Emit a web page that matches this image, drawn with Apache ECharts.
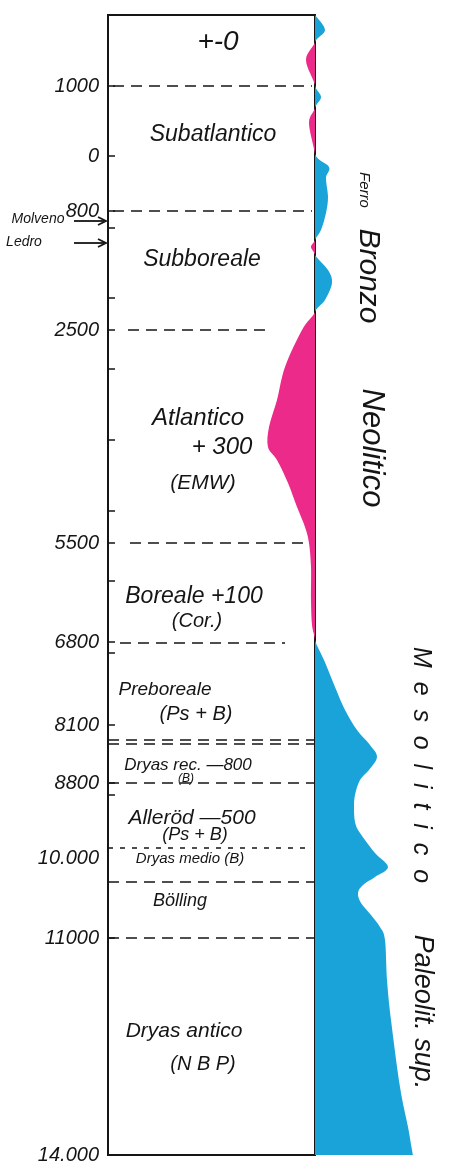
<!DOCTYPE html>
<html lang="it">
<head>
<meta charset="UTF-8">
<title>diagramma pollinico</title>
<script src="https://cdn.jsdelivr.net/npm/echarts@6/dist/echarts.min.js"></script>
<style>
  html, body { margin: 0; padding: 0; background: #fff; }
  #chart { width: 454px; height: 1170px; }
</style>
</head>
<body>
<div id="chart"></div>
<script>
// profondità in unità del disegno (0 = bordo superiore, 1140 = bordo inferiore)
var labelDepth = [71, 141, 196, 315, 528, 627, 710, 768, 843, 923, 1140];
var labelText = ['1000', '0', '800', '2500', '5500', '6800', '8100', '8800', '10.000', '11000', '14.000'];
var tickDepth = [71, 141, 196, 213, 283, 315, 354, 425, 496, 528, 566, 627, 638, 710, 768, 780, 923];

// limiti dei periodi (linee tratteggiate)
var boundDepth = [71, 196, 315, 528, 628, 725, 729, 768, 833, 867, 923];

// curva: + = blu (destra), - = rosa (sinistra)
var profDepth = [0, 15, 27, 45, 70, 82, 93, 108, 139, 152, 163, 182, 198, 215, 225, 232, 240, 255, 268, 285, 297,
  315, 352, 385, 412, 432, 445, 468, 492, 512, 528, 552, 585, 610, 625,
  645, 672, 695, 715, 730, 742, 755, 765, 780, 792, 807, 818, 838, 852, 862, 870, 878, 888, 900, 912, 925,
  965, 1005, 1072, 1112, 1135, 1140];
var profValue = [0, 10, 0, -9, 0, 6, 0, -6, 0, 14, 11, 13, 11, 6, 0, -4, 0, 13, 17, 10, 0,
  -13, -30, -38, -46, -47, -38, -27, -18, -10, -6, -4, -4, -3, 0,
  9, 20, 30, 42, 55, 62, 54, 45, 40, 39, 40, 45, 60, 73, 60, 48, 43, 46, 56, 65, 70,
  72, 76, 85, 93, 97, 98];

var BLUE = '#1aa3d8';
var PINK = '#ec2a8a';
var INK = '#151515';

// estensione orizzontale delle linee tratteggiate (px dal bordo sinistro)
var boundSpan = [[5, 204], [5, 204], [20, 160], [22, 202], [12, 177], [0, 206], [0, 206], [0, 206], [0, 202], [0, 206], [0, 206]];

var profData = profDepth.map(function (d, i) { return [profValue[i], d]; });

function areaSeries(color, sign) {
  return {
    type: 'custom',
    xAxisIndex: 1,
    yAxisIndex: 1,
    silent: true,
    clip: false,
    data: profData,
    renderItem: function (params, api) {
      if (params.dataIndex !== 0) return;
      var n = profDepth.length;
      var bx = api.coord([0, 0])[0];
      var pts = [];
      for (var i = 0; i < n; i++) {
        var v = sign > 0 ? Math.max(profValue[i], 0) : Math.min(profValue[i], 0);
        pts.push(api.coord([v, profDepth[i]]));
      }
      var side = function (x) { return sign > 0 ? Math.max(x, bx) : Math.min(x, bx); };
      var d = 'M' + bx + ' ' + pts[0][1] + ' L' + pts[0][0] + ' ' + pts[0][1];
      for (var k = 0; k < n - 1; k++) {
        var p0 = pts[k - 1] || pts[k], p1 = pts[k], p2 = pts[k + 1], p3 = pts[k + 2] || p2;
        var c1x = side(p1[0] + (p2[0] - p0[0]) / 6), c1y = p1[1] + (p2[1] - p0[1]) / 6;
        var c2x = side(p2[0] - (p3[0] - p1[0]) / 6), c2y = p2[1] - (p3[1] - p1[1]) / 6;
        d += ' C' + c1x + ' ' + c1y + ' ' + c2x + ' ' + c2y + ' ' + p2[0] + ' ' + p2[1];
      }
      d += ' L' + bx + ' ' + pts[n - 1][1] + ' Z';
      return { type: 'path', shape: { pathData: d }, style: { fill: color } };
    }
  };
}

var markData = boundDepth.map(function (d, i) {
  var item = [{ coord: [boundSpan[i][0], d] }, { coord: [boundSpan[i][1], d] }];
  if (d === 833) item[0].lineStyle = { type: [5, 7] };
  return item;
});

function txt(t, x, y, size, extra) {
  var o = {
    type: 'text', x: x, y: y, silent: true,
    style: {
      text: t, fontSize: size, fontStyle: 'italic', fontFamily: 'Liberation Sans',
      fill: INK, align: 'center', verticalAlign: 'middle'
    }
  };
  if (extra) for (var k in extra) o[k] = extra[k];
  return o;
}

function arrow(x1, x2, y) {
  return {
    type: 'group', silent: true,
    children: [
      { type: 'line', shape: { x1: x1, y1: y, x2: x2 - 2, y2: y }, style: { stroke: INK, lineWidth: 1.8 } },
      { type: 'polyline', shape: { points: [[x2 - 8, y - 4], [x2, y], [x2 - 8, y + 4]] }, style: { stroke: INK, lineWidth: 1.8, fill: null } }
    ]
  };
}

var rot = -Math.PI / 2;

var chart = echarts.init(document.getElementById('chart'));
chart.setOption({
  backgroundColor: '#fff',
  animation: false,
  grid: [
    { left: 108, top: 15, width: 207, height: 1140, show: true, borderColor: INK, borderWidth: 2, backgroundColor: 'transparent' },
    { left: 250, top: 15, width: 190, height: 1140 }
  ],
  xAxis: [
    { gridIndex: 0, type: 'value', min: 0, max: 207, show: false },
    { gridIndex: 1, type: 'value', min: -65, max: 125, show: false }
  ],
  yAxis: [
    {
      gridIndex: 0, type: 'value', min: 0, max: 1140, inverse: true,
      axisLine: { show: true, lineStyle: { color: INK, width: 2 } },
      axisTick: { show: true, inside: true, length: 7, customValues: tickDepth, lineStyle: { color: INK, width: 1.5 } },
      axisLabel: {
        customValues: labelDepth, margin: 9, color: INK, fontSize: 20, fontStyle: 'italic', fontFamily: 'Liberation Sans',
        formatter: function (v) { var i = labelDepth.indexOf(v); return i < 0 ? '' : labelText[i]; }
      },
      splitLine: { show: false }
    },
    { gridIndex: 1, type: 'value', min: 0, max: 1140, inverse: true, show: false }
  ],
  series: [
    {
      type: 'line', xAxisIndex: 0, yAxisIndex: 0, data: [], silent: true,
      markLine: {
        silent: true, symbol: ['none', 'none'], label: { show: false },
        lineStyle: { color: INK, type: [11, 7], width: 1.6 },
        data: markData
      }
    },
    areaSeries(BLUE, 1),
    areaSeries(PINK, -1)
  ],
  graphic: [
    txt('+-0', 218, 42, 28),
    txt('Subatlantico', 213, 135, 23),
    txt('Subboreale', 202, 260, 23),
    txt('Atlantico', 198, 418, 24),
    txt('+ 300', 222, 447, 24),
    txt('(EMW)', 203, 483, 21),
    txt('Boreale +100', 194, 597, 23),
    txt('(Cor.)', 197, 621, 20),
    txt('Preboreale', 165, 690, 19),
    txt('(Ps + B)', 196, 714, 20),
    txt('Dryas rec. \u2014800', 188, 765, 17),
    txt('(B)', 186, 779, 12),
    txt('Allerӧd \u2014500', 192, 818, 21),
    txt('(Ps + B)', 195, 835, 18),
    txt('Dryas medio (B)', 190, 859, 15),
    txt('Bölling', 180, 901, 18),
    txt('Dryas antico', 184, 1031, 21),
    txt('(N B P)', 203, 1064, 20),
    txt('Molveno', 38, 219, 14),
    txt('Ledro', 24, 242, 14),
    arrow(74, 106, 221),
    arrow(74, 106, 243),
    txt('Ferro', 364, 190, 15, { rotation: rot }),
    txt('Bronzo', 368, 276, 30, { rotation: rot }),
    txt('Neolitico', 372, 448, 31, { rotation: rot }),
    txt('M  e  s  o  l  i  t  i  c  o', 421, 765, 25, { rotation: rot }),
    txt('Paleolit. sup.', 423, 1012, 27, { rotation: rot })
  ]
});
</script>
</body>
</html>
